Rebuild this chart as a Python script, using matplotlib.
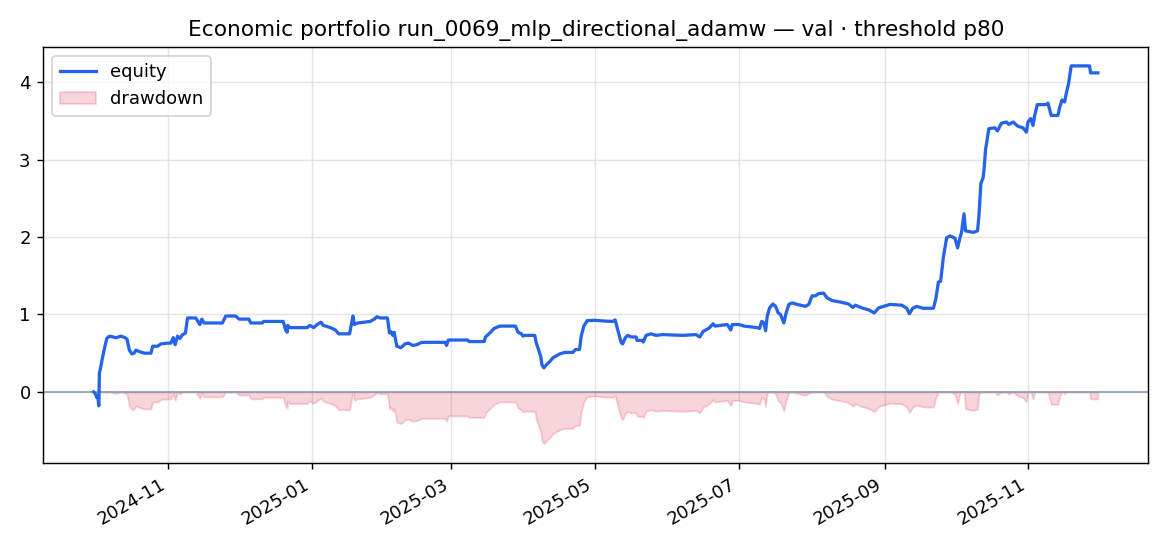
import matplotlib
matplotlib.use("Agg")
import matplotlib.pyplot as plt
import matplotlib.dates as mdates
import numpy as np
import pandas as pd

title = "Economic portfolio run_0069_mlp_directional_adamw \u2014 val \u00b7 threshold p80"

dates = [
    "2024-09-30 05:00", "2024-09-30 22:00", "2024-10-01 13:00", "2024-10-01 23:00", "2024-10-02 11:00",
    "2024-10-02 17:00", "2024-10-03 11:00", "2024-10-03 21:00", "2024-10-04 20:00", "2024-10-05 20:00",
    "2024-10-06 23:00", "2024-10-09 19:00", "2024-10-11 22:00", "2024-10-13 14:00", "2024-10-14 11:00",
    "2024-10-15 10:00", "2024-10-16 13:00", "2024-10-17 10:00", "2024-10-18 06:00", "2024-10-19 16:00",
    "2024-10-21 18:00", "2024-10-24 14:00", "2024-10-25 08:00", "2024-10-27 10:00", "2024-10-28 20:00",
    "2024-10-31 16:00", "2024-11-02 01:00", "2024-11-03 01:00", "2024-11-03 21:00", "2024-11-04 21:00",
    "2024-11-05 21:00", "2024-11-07 00:00", "2024-11-08 05:00", "2024-11-09 03:00", "2024-11-12 15:00",
    "2024-11-13 12:00", "2024-11-14 08:00", "2024-11-15 04:00", "2024-11-16 03:00", "2024-11-23 22:00",
    "2024-11-25 08:00", "2024-11-29 13:00", "2024-11-30 23:00", "2024-12-05 04:00", "2024-12-05 22:00",
    "2024-12-10 20:00", "2024-12-11 10:00", "2024-12-14 09:00", "2024-12-19 18:00", "2024-12-20 17:00",
    "2024-12-21 10:00", "2024-12-21 16:00", "2024-12-22 12:00", "2024-12-29 21:00", "2024-12-31 00:00",
    "2025-01-01 16:00", "2025-01-03 03:00", "2025-01-04 19:00", "2025-01-05 16:00", "2025-01-08 18:00",
    "2025-01-10 20:00", "2025-01-12 06:00", "2025-01-16 22:00", "2025-01-17 12:00", "2025-01-18 08:00",
    "2025-01-18 21:00", "2025-01-20 07:00", "2025-01-25 16:00", "2025-01-27 08:00", "2025-01-28 12:00",
    "2025-01-29 21:00", "2025-02-01 23:00", "2025-02-02 20:00", "2025-02-03 10:00", "2025-02-04 06:00",
    "2025-02-04 19:00", "2025-02-05 23:00", "2025-02-07 16:00", "2025-02-09 11:00", "2025-02-10 21:00",
    "2025-02-12 17:00", "2025-02-14 10:00", "2025-02-16 13:00", "2025-02-26 09:00", "2025-02-27 02:00",
    "2025-02-27 19:00", "2025-03-04 17:00", "2025-03-08 00:00", "2025-03-08 13:00", "2025-03-15 00:00",
    "2025-03-15 14:00", "2025-03-17 10:00", "2025-03-19 06:00", "2025-03-21 16:00", "2025-03-28 07:00",
    "2025-03-29 09:00", "2025-03-30 20:00", "2025-03-31 12:00", "2025-04-01 06:00", "2025-04-05 11:00",
    "2025-04-06 04:00", "2025-04-06 20:00", "2025-04-08 00:00", "2025-04-08 13:00", "2025-04-09 09:00",
    "2025-04-10 10:00", "2025-04-11 19:00", "2025-04-13 05:00", "2025-04-16 01:00", "2025-04-18 04:00",
    "2025-04-21 16:00", "2025-04-22 16:00", "2025-04-24 12:00", "2025-04-25 05:00", "2025-04-26 07:00",
    "2025-04-27 18:00", "2025-04-30 20:00", "2025-05-05 02:00", "2025-05-08 14:00", "2025-05-09 14:00",
    "2025-05-10 17:00", "2025-05-12 03:00", "2025-05-12 19:00", "2025-05-13 20:00", "2025-05-14 22:00",
    "2025-05-16 09:00", "2025-05-18 12:00", "2025-05-18 22:00", "2025-05-21 06:00", "2025-05-21 14:00",
    "2025-05-22 17:00", "2025-05-24 20:00", "2025-05-26 23:00", "2025-05-29 18:00", "2025-06-07 05:00",
    "2025-06-12 21:00", "2025-06-14 13:00", "2025-06-15 23:00", "2025-06-18 12:00", "2025-06-20 04:00",
    "2025-06-21 00:00", "2025-06-23 10:00", "2025-06-26 05:00", "2025-06-27 16:00", "2025-06-28 08:00",
    "2025-07-01 04:00", "2025-07-03 07:00", "2025-07-08 22:00", "2025-07-09 22:00", "2025-07-10 19:00",
    "2025-07-11 18:00", "2025-07-12 11:00", "2025-07-13 04:00", "2025-07-14 04:00", "2025-07-15 13:00",
    "2025-07-16 17:00", "2025-07-17 19:00", "2025-07-18 19:00", "2025-07-20 05:00", "2025-07-21 04:00",
    "2025-07-22 08:00", "2025-07-23 17:00", "2025-07-25 20:00", "2025-07-29 09:00", "2025-07-30 19:00",
    "2025-08-01 04:00", "2025-08-02 15:00", "2025-08-04 00:00", "2025-08-06 03:00", "2025-08-07 13:00",
    "2025-08-09 15:00", "2025-08-13 05:00", "2025-08-16 17:00", "2025-08-18 12:00", "2025-08-19 13:00",
    "2025-08-22 08:00", "2025-08-25 04:00", "2025-08-27 14:00", "2025-08-29 10:00", "2025-09-03 08:00",
    "2025-09-08 06:00", "2025-09-10 09:00", "2025-09-11 12:00", "2025-09-12 22:00", "2025-09-14 14:00",
    "2025-09-17 10:00", "2025-09-21 16:00", "2025-09-22 17:00", "2025-09-23 19:00", "2025-09-24 18:00",
    "2025-09-25 21:00", "2025-09-27 07:00", "2025-09-28 18:00", "2025-09-30 20:00", "2025-10-01 23:00",
    "2025-10-02 23:00", "2025-10-03 15:00", "2025-10-04 16:00", "2025-10-05 08:00", "2025-10-08 14:00",
    "2025-10-10 10:00", "2025-10-11 00:00", "2025-10-11 20:00", "2025-10-12 19:00", "2025-10-13 06:00",
    "2025-10-13 19:00", "2025-10-14 15:00", "2025-10-15 05:00", "2025-10-17 18:00", "2025-10-18 21:00",
    "2025-10-20 13:00", "2025-10-22 16:00", "2025-10-23 16:00", "2025-10-25 12:00", "2025-10-27 15:00",
    "2025-10-29 18:00", "2025-10-31 03:00", "2025-10-31 20:00", "2025-11-02 00:00", "2025-11-02 23:00",
    "2025-11-03 16:00", "2025-11-04 19:00", "2025-11-08 14:00", "2025-11-09 07:00", "2025-11-10 01:00",
    "2025-11-10 17:00", "2025-11-13 13:00", "2025-11-14 06:00", "2025-11-15 06:00", "2025-11-16 09:00",
    "2025-11-17 01:00", "2025-11-18 01:00", "2025-11-19 04:00", "2025-11-26 23:00", "2025-11-27 09:00",
    "2025-11-30 12:00",
]

equity = [
    0.00, -0.02, -0.07, -0.05, -0.18,
    0.24, 0.35, 0.42, 0.56, 0.69,
    0.72, 0.70, 0.72, 0.70, 0.68,
    0.54, 0.49, 0.50, 0.54, 0.52,
    0.50, 0.50, 0.59, 0.59, 0.62,
    0.63, 0.63, 0.70, 0.61, 0.72,
    0.69, 0.74, 0.76, 0.955, 0.955,
    0.91, 0.87, 0.94, 0.89, 0.89,
    0.98, 0.98, 0.94, 0.94, 0.89,
    0.89, 0.91, 0.91, 0.91, 0.80,
    0.77, 0.86, 0.83, 0.83, 0.86,
    0.83, 0.87, 0.90, 0.86, 0.83,
    0.80, 0.75, 0.75, 0.85, 0.98,
    0.87, 0.89, 0.91, 0.94, 0.97,
    0.955, 0.955, 0.76, 0.78, 0.73,
    0.77, 0.59, 0.57, 0.62, 0.63,
    0.60, 0.61, 0.64, 0.64, 0.60,
    0.67, 0.67, 0.67, 0.65, 0.65,
    0.71, 0.76, 0.82, 0.85, 0.85,
    0.77, 0.75, 0.72, 0.73, 0.73,
    0.63, 0.57, 0.46, 0.35, 0.31,
    0.35, 0.39, 0.44, 0.49, 0.51,
    0.51, 0.545, 0.55, 0.72, 0.85,
    0.92, 0.925, 0.915, 0.91, 0.93,
    0.80, 0.64, 0.62, 0.695, 0.73,
    0.71, 0.71, 0.665, 0.665, 0.645,
    0.73, 0.75, 0.73, 0.74, 0.73,
    0.74, 0.71, 0.78, 0.825, 0.88,
    0.85, 0.86, 0.87, 0.80, 0.87,
    0.87, 0.85, 0.83, 0.82, 0.91,
    0.89, 0.79, 0.98, 1.085, 1.135,
    1.105, 1.02, 1.00, 0.89, 1.02,
    1.13, 1.15, 1.13, 1.105, 1.13,
    1.24, 1.24, 1.27, 1.275, 1.215,
    1.18, 1.16, 1.135, 1.09, 1.12,
    1.085, 1.06, 1.02, 1.085, 1.13,
    1.12, 1.08, 1.01, 1.08, 1.105,
    1.08, 1.08, 1.20, 1.42, 1.43,
    1.73, 1.99, 2.015, 1.985, 1.86,
    1.99, 2.06, 2.30, 2.08, 2.06,
    2.08, 2.27, 2.69, 2.77, 2.90,
    3.12, 3.29, 3.40, 3.41, 3.37,
    3.47, 3.485, 3.455, 3.485, 3.43,
    3.41, 3.355, 3.485, 3.53, 3.44,
    3.57, 3.71, 3.71, 3.73, 3.645,
    3.57, 3.57, 3.67, 3.77, 3.745,
    3.85, 3.98, 4.21, 4.21, 4.12,
    4.12,
]

t = pd.to_datetime(dates)
eq = np.array(equity)
dd = eq - np.maximum.accumulate(eq)

fig = plt.figure(figsize=(9, 4.2), dpi=130)
ax = fig.add_axes([0.037, 0.1526, 0.9443, 0.7613])

ax.plot(t, eq, color="#2563eb", lw=1.8, label="equity", zorder=3)
ax.fill_between(t, dd, 0, color="crimson", alpha=0.18, label="drawdown", zorder=2)
ax.axhline(0, color="#8a9bb0", lw=0.9, zorder=2.5)

ax.grid(True, color="#d9d9d9", lw=0.8, alpha=0.7)
ax.set_axisbelow(True)

ax.xaxis.set_major_locator(mdates.MonthLocator(bymonth=[1, 3, 5, 7, 9, 11]))
ax.xaxis.set_major_formatter(mdates.DateFormatter("%Y-%m"))
for lab in ax.get_xticklabels():
    lab.set_rotation(30)
    lab.set_horizontalalignment("right")

ax.set_title(title, fontsize=12)
ax.legend(loc="upper left", fontsize=10)

fig.savefig("out.png", dpi=130)
